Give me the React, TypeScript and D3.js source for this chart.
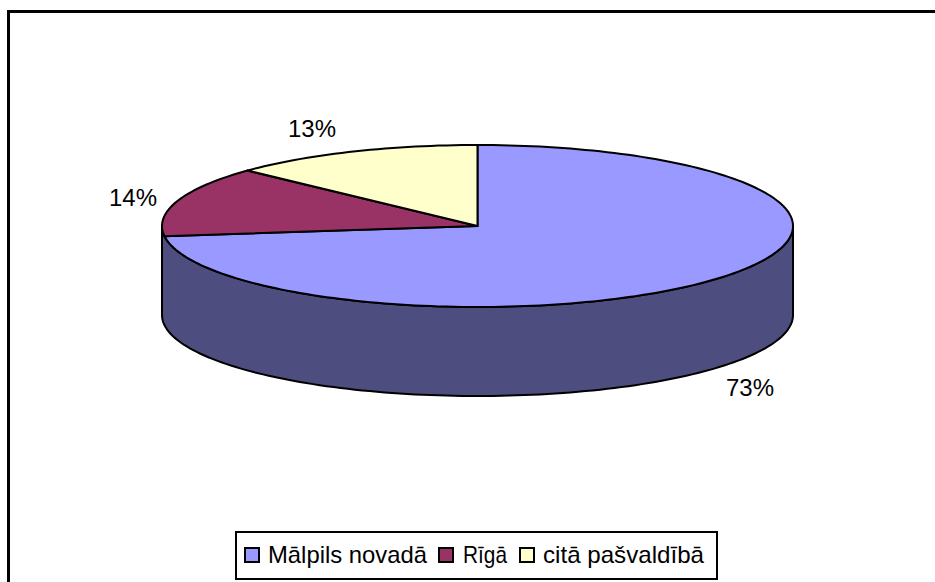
import React from "react";
import * as d3 from "d3";

const categories = ["Mālpils novadā", "Rīgā", "citā pašvaldībā"];
const values = [73, 14, 13];
const topColors = ["#9999ff", "#993366", "#ffffcc"];
const sideColor = "#4d4d80";
const labelText = ["73%", "14%", "13%"];
const labelPos: [number, number][] = [[750, 396], [133, 206], [312, 137]];
const legendBoxX = [245, 439, 520];
const legendTextX = [268, 463, 543];
const legendTextW = [159, 44, 161];

const cx = 477.5, cy = 226, rx = 315.5, ry = 81, depth = 89;
const sx = d3.scaleLinear().domain([-1, 1]).range([cx - rx, cx + rx]);
const sy = d3.scaleLinear().domain([-1, 1]).range([cy + ry, cy - ry]);
const pt = (a: number, dy = 0): [number, number] => [sx(Math.sin(a)), sy(Math.cos(a)) + dy];
const line = d3.line<[number, number]>();

const pie = d3.pie<number>().sort(null)(values);

function rim(a0: number, a1: number, dy = 0): [number, number][] {
  const n = Math.max(2, Math.ceil(Math.abs(a1 - a0) * 40));
  return d3.range(n + 1).map((i) => pt(a0 + ((a1 - a0) * i) / n, dy));
}

const sidePts = [...rim(Math.PI / 2, (3 * Math.PI) / 2), ...rim((3 * Math.PI) / 2, Math.PI / 2, depth)];
const font = "'Liberation Sans', Arial, sans-serif";

export default function App() {
  return (
    <svg width={935} height={582} style={{ position: "absolute", left: 0, top: 0 }}>
      <path d="M8.5 582V11.5H935" fill="none" stroke="#000" strokeWidth={3} />
      <path d={line(sidePts)! + "Z"} fill={sideColor} stroke="#000" strokeWidth={2} strokeLinejoin="round" />
      {pie.map((d, i) => (
        <path
          key={i}
          d={line([[cx, cy], ...rim(d.startAngle, d.endAngle)])! + "Z"}
          fill={topColors[i]}
          stroke="#000"
          strokeWidth={2}
          strokeLinejoin="round"
        />
      ))}
      <g fontFamily={font} fontSize={24} fill="#000">
        {labelText.map((t, i) => (
          <text key={t} x={labelPos[i][0]} y={labelPos[i][1]} textAnchor="middle">{t}</text>
        ))}
      </g>
      <rect x={236} y={532} width={481} height={47} fill="#fff" stroke="#000" strokeWidth={2} />
      <g fontFamily={font} fontSize={24} fill="#000">
        {categories.map((c, i) => (
          <g key={c}>
            <rect x={legendBoxX[i]} y={548} width={14} height={14} fill={topColors[i]} stroke="#000" strokeWidth={2} />
            <text x={legendTextX[i]} y={563} textLength={legendTextW[i]} lengthAdjust="spacingAndGlyphs">{c}</text>
          </g>
        ))}
      </g>
    </svg>
  );
}
